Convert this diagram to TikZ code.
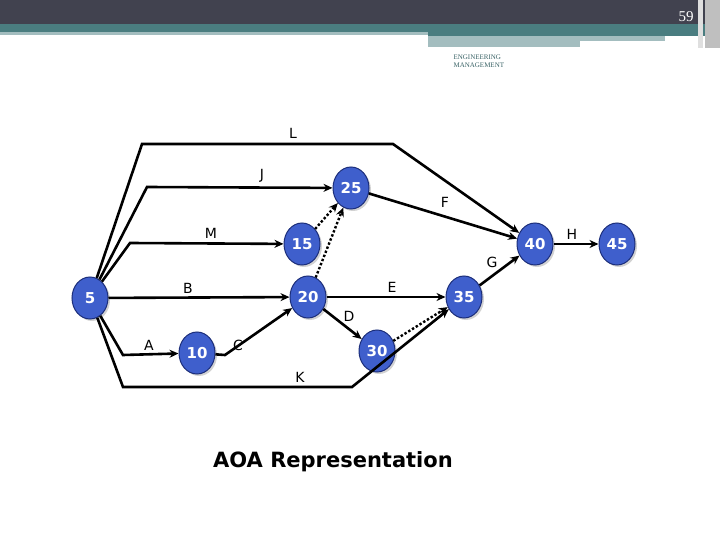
\documentclass[tikz,border=0pt]{standalone}
\usepackage{fontspec}
\setmainfont{DejaVu Sans}
\usetikzlibrary{arrows.meta,shadows,shapes.geometric}
\definecolor{hdr}{HTML}{41424F}
\definecolor{teal1}{HTML}{4A7D80}
\definecolor{teal2}{HTML}{A3BDBF}
\definecolor{nfill}{HTML}{3F5FCC}
\definecolor{nedge}{HTML}{1C2E7A}
\begin{document}
\begin{tikzpicture}[x=1pt,y=-1pt,
  ev/.style={ellipse,minimum width=36pt,minimum height=42pt,inner sep=0pt,fill=nfill,draw=nedge,line width=1pt,text=white,font=\fontsize{15}{15}\selectfont\bfseries,drop shadow={shadow xshift=2pt,shadow yshift=-2pt,opacity=0.35}},
  act/.style={line width=2.6pt,-{Stealth[length=9pt,width=8pt]}},
  dum/.style={line width=2.4pt,dotted,-{Stealth[length=9pt,width=8pt]}},
  lb/.style={font=\fontsize{14}{14}\selectfont}]
\useasboundingbox (0,0) rectangle (720,540);
\fill[white] (0,0) rectangle (720,540);
% header
\fill[hdr] (0,0) rectangle (720,24);
\fill[teal1] (0,24) rectangle (720,32);
\fill[teal2] (0,32) rectangle (428,35);
\fill[teal1] (428,32) rectangle (705,36);
\fill[teal2] (428,41) rectangle (580,47);
\fill[teal2] (428,36) rectangle (665,41);
\fill[gray!50] (705,0) rectangle (720,48);
\fill[gray!25] (698,0) rectangle (703,48);
\node[text=white,font=\fontsize{15}{15}\selectfont] (pg) at (686,17) {\fontspec{Liberation Serif}59};
\node[anchor=west,align=left,text=teal1!80!black,font=\fontsize{7}{7.5}\selectfont\fontspec{Liberation Serif}] (em) at (450,61) {ENGINEERING\\MANAGEMENT};
% events
\node[ev] (n5) at (90,298) {5};
\node[ev] (n10) at (197,353) {10};
\node[ev] (n15) at (302,244) {15};
\node[ev] (n20) at (308,297) {20};
\node[ev] (n25) at (351,188) {25};
\node[ev] (n30) at (377,351) {30};
\node[ev] (n35) at (464,297) {35};
\node[ev] (n40) at (535,244) {40};
\node[ev] (n45) at (617,244) {45};
\coordinate (l1) at (142,144); \coordinate (l2) at (393,144);
\coordinate (j1) at (147,187);
\coordinate (m1) at (130,243);
\coordinate (a1) at (123,355);
\coordinate (c1) at (225,355);
\coordinate (k1) at (123,387); \coordinate (k2) at (352,387);
\draw[act] (n5) -- (l1) -- (l2) -- (n40);
\draw[act] (n5) -- (j1) -- (n25);
\draw[act] (n5) -- (m1) -- (n15);
\draw[act] (n5) -- (n20);
\draw[act] (n5) -- (a1) -- (n10);
\draw[act] (n10) -- (c1) -- (n20);
\draw[act] (n5) -- (k1) -- (k2) -- (n35);
\draw[act] (n25) -- (n40);
\draw[act] (n20) -- (n35);
\draw[act] (n20) -- (n30);
\draw[act] (n35) -- (n40);
\draw[act] (n40) -- (n45);
\draw[dum] (n15) -- (n25);
\draw[dum] (n20) -- (n25);
\draw[dum] (n30) -- (n35);
% labels
\node[lb] (tL) at (293,133) {L};
\node[lb] (tJ) at (262,176) {J};
\node[lb] (tM) at (211,233) {M};
\node[lb] (tB) at (188,288) {B};
\node[lb] (tA) at (149,345) {A};
\node[lb] (tC) at (238,345) {C};
\node[lb] (tK) at (300,377) {K};
\node[lb] (tF) at (445,202) {F};
\node[lb] (tE) at (392,287) {E};
\node[lb] (tD) at (349,316) {D};
\node[lb] (tG) at (492,262) {G};
\node[lb] (tH) at (572,234) {H};
\node[font=\fontsize{21}{21}\selectfont\bfseries] (title) at (333,462) {AOA Representation};
\end{tikzpicture}
\end{document}
